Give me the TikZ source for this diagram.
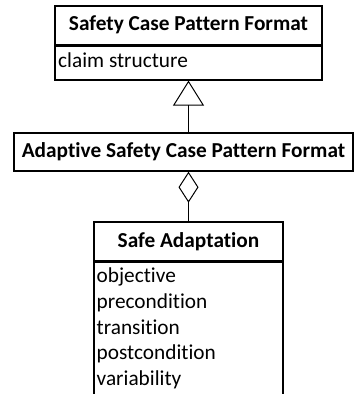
\documentclass[tikz,border=0pt]{standalone}
\usepackage{fontspec}
\setmainfont[Ligatures=NoCommon]{Carlito}
\usetikzlibrary{arrows.meta}
\newcommand{\umlfont}{\fontsize{21.3}{25.8}\selectfont}
\begin{document}
\begin{tikzpicture}[x=1pt,y=1pt,
  box/.style={draw, line width=1.4pt, rectangle, inner sep=0pt, font=\umlfont},
  title/.style={box, font=\bfseries\umlfont},
  label/.style={inner sep=0pt, align=left, font=\umlfont},
  link/.style={line width=1pt}
]
\clip (0,0) rectangle (354,-394);
\fill[white] (0,0) rectangle (354,-394);

% Safety Case Pattern Format
\node[title, minimum width=267, minimum height=38.5] (scpf) at (188.5,-25.25) {Safety Case Pattern Format};
\node[box, minimum width=267, minimum height=34, anchor=north] (scpfa) at (scpf.south) {};
\node[label, anchor=west] (scpft) at (58,-60.5) {claim structure};

% Adaptive Safety Case Pattern Format
\node[title, minimum width=339, minimum height=38] (ascpf) at (183.5,-152) {Adaptive Safety Case Pattern Format};

% Safe Adaptation
\node[title, minimum width=189, minimum height=39] (sa) at (188.5,-241.5) {Safe Adaptation};
\node[box, minimum width=189, minimum height=150, anchor=north] (saa) at (sa.south) {};
\node[label, anchor=north west] (saat) at (96.5,-267.5)
  {objective\\precondition\\transition\\postcondition\\variability};

% Generalisation and aggregation connectors
\draw[link, -{Triangle[open, width=31pt, length=25pt, line width=1pt]}] (ascpf.north -| scpfa.south) -- (scpfa.south);
\draw[link, {Diamond[open, width=20pt, length=31pt, line width=1pt]}-] (ascpf.south -| sa.north) -- (sa.north);
\end{tikzpicture}
\end{document}
